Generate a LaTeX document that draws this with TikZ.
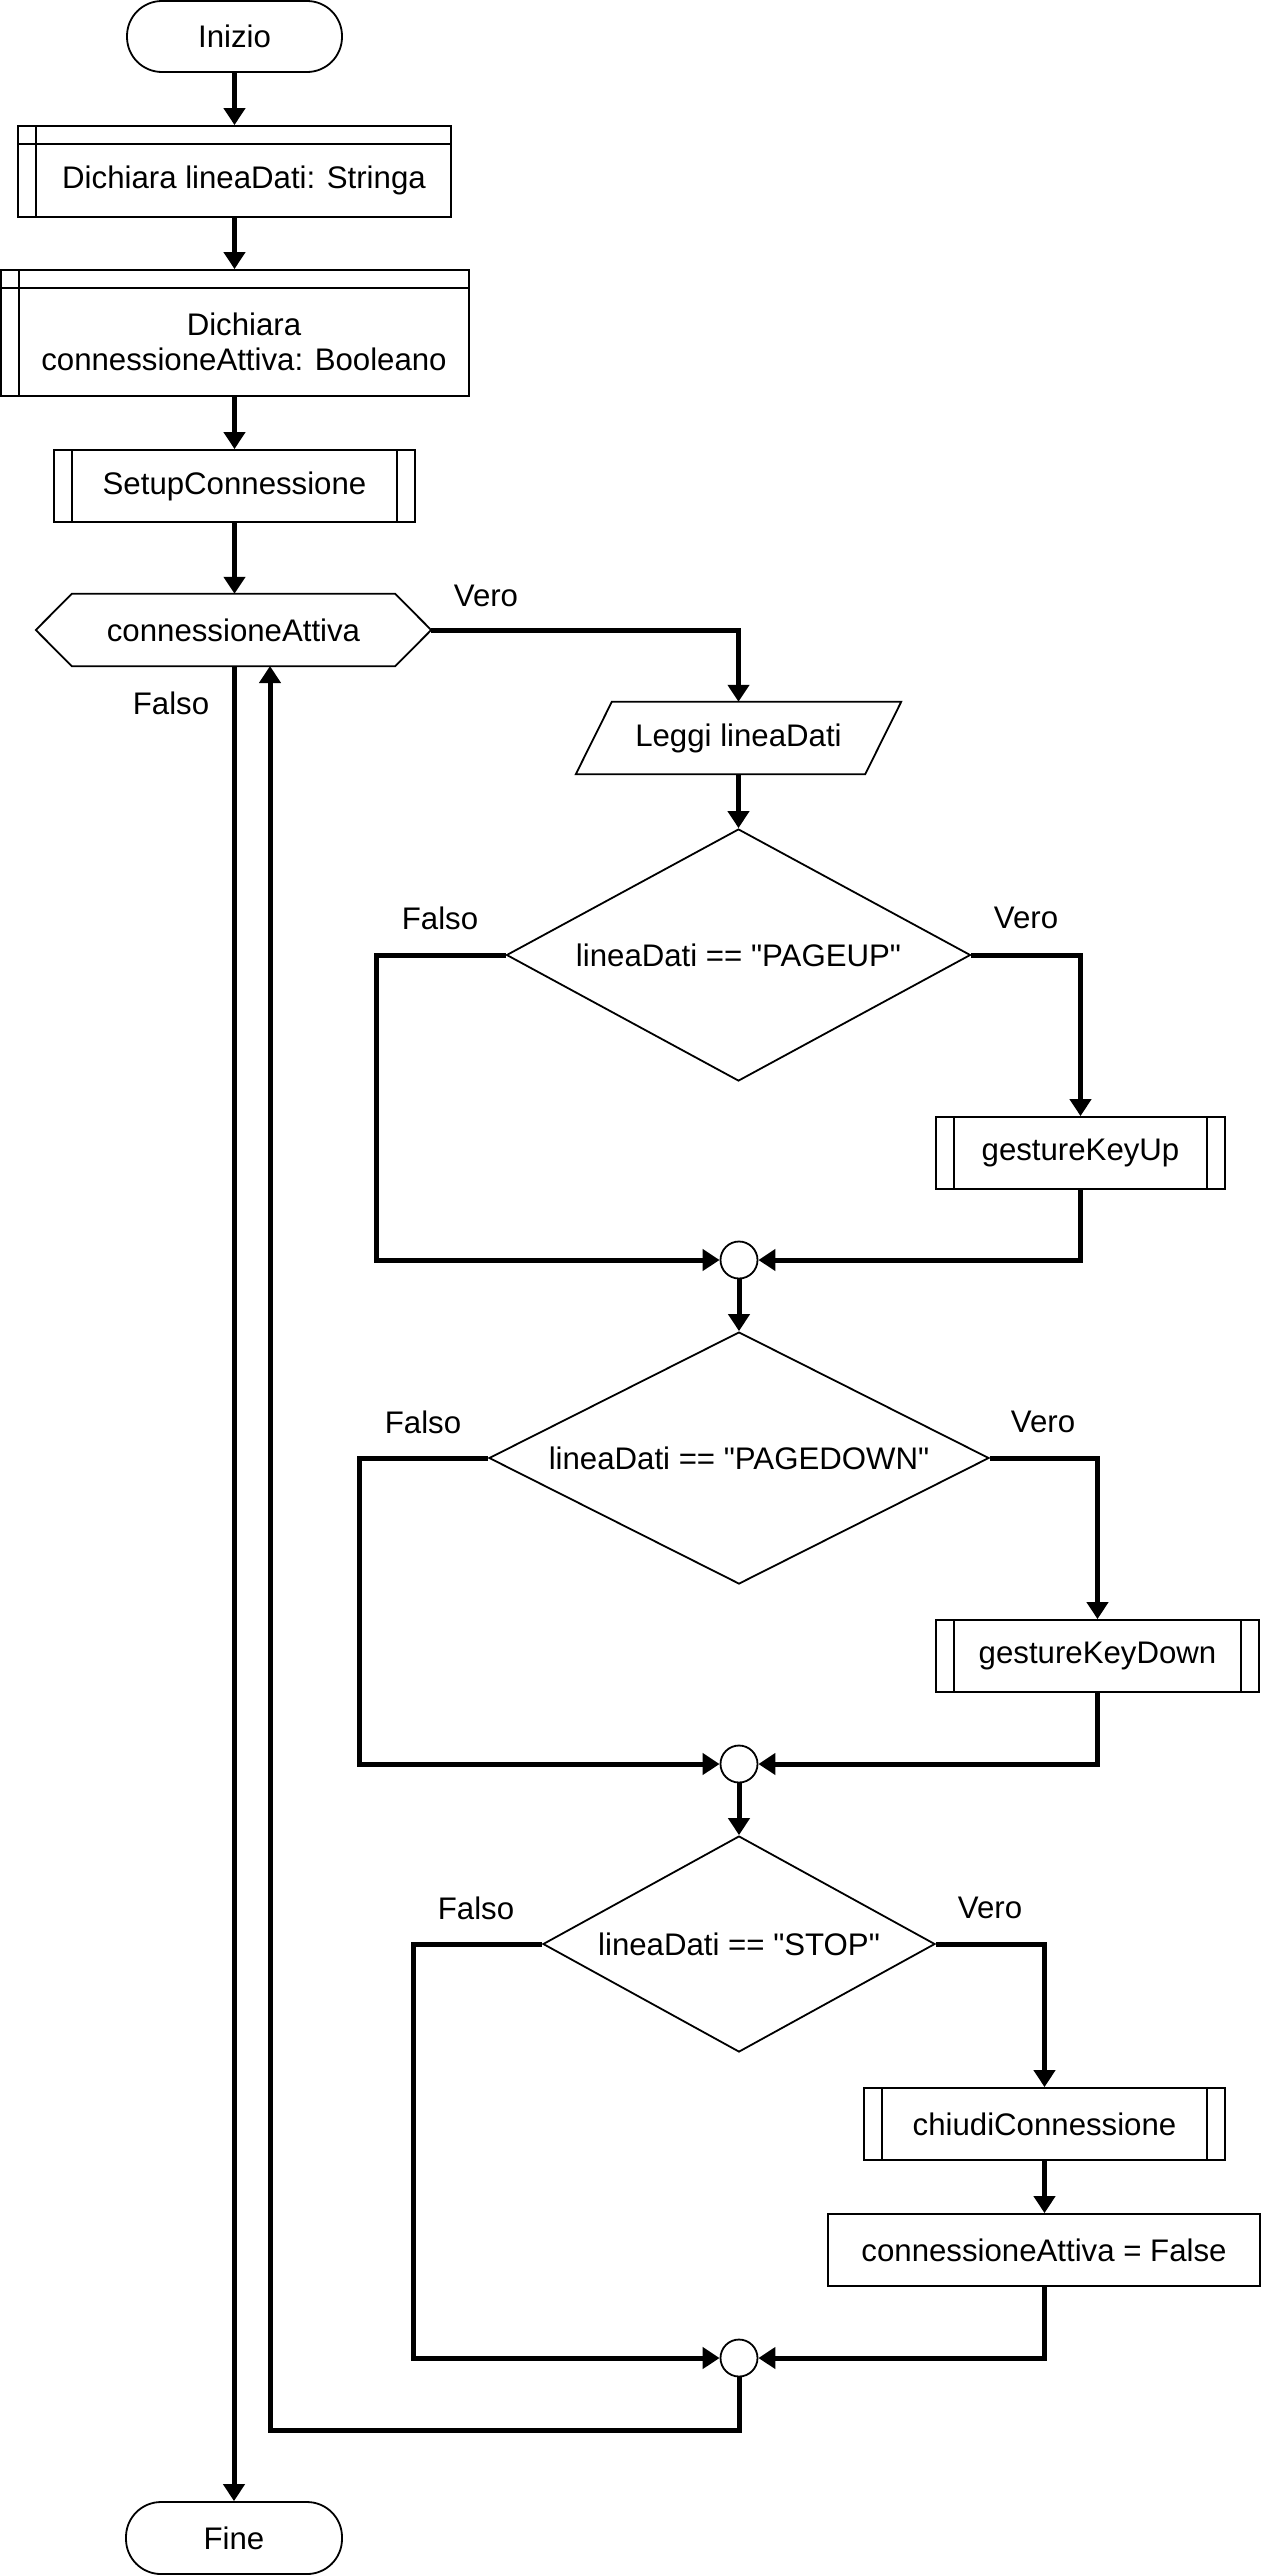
\documentclass[tikz,border=0pt]{standalone}
\usepackage{fontspec}
\setmainfont{Liberation Sans}
\usetikzlibrary{arrows.meta,shapes.geometric}

\begin{document}
\begin{tikzpicture}[
  x=1pt, y=-1pt,
  every node/.style={font=\fontsize{31.2pt}{35pt}\selectfont, inner sep=0pt},
  box/.style={draw, line width=1.8pt, fill=white, rectangle},
  terminal/.style={box, rounded corners=35pt},
  subproc/.style={box, path picture={
      \draw[line width=1.8pt] ([xshift=18pt]path picture bounding box.north west) -- ([xshift=18pt]path picture bounding box.south west);
      \draw[line width=1.8pt] ([xshift=-18pt]path picture bounding box.north east) -- ([xshift=-18pt]path picture bounding box.south east);}},
  storebox/.style={box, path picture={
      \draw[line width=1.8pt] ([yshift=-18pt]path picture bounding box.north west) -- ([yshift=-18pt]path picture bounding box.north east);
      \draw[line width=1.8pt] ([xshift=18pt]path picture bounding box.north west) -- ([xshift=18pt]path picture bounding box.south west);}},
  decision/.style={draw, line width=1.8pt, fill=white, diamond},
  junction/.style={draw, line width=1.8pt, fill=white, circle, minimum size=37pt},
  outline/.style={draw, line width=1.8pt, line join=miter},
  conn/.style={line width=5pt},
  arr/.style={conn, -{Triangle[length=17pt,width=21pt]}}
]
\useasboundingbox (0,0) rectangle (1261,2575);

% main column
\node[terminal, minimum width=215pt, minimum height=71pt] (inizio) at (234.5,36.5) {Inizio};
\node[storebox, minimum width=433pt, minimum height=91pt] (d1) at (234.5,171.5) {};
\node (d1t) at (244,180.5) {Dichiara lineaDati: Stringa};
\node[storebox, minimum width=468pt, minimum height=126pt] (d2) at (235,333) {};
\node[align=center] (d2t) at (244,342) {Dichiara\\connessioneAttiva: Booleano};
\node[subproc, minimum width=361pt, minimum height=72pt] (setup) at (234.5,486) {SetupConnessione};

% loop condition (hexagon)
\node[minimum width=395pt, minimum height=72pt] (hex) at (233.5,630) {connessioneAttiva};
\draw[outline] (hex.west) -- ([xshift=36pt]hex.north west) -- ([xshift=-36pt]hex.north east)
  -- (hex.east) -- ([xshift=-36pt]hex.south east) -- ([xshift=36pt]hex.south west) -- cycle;

\node[terminal, minimum width=216pt, minimum height=72pt] (fine) at (234,2538) {Fine};

% loop body
\node[minimum width=325pt, minimum height=72pt] (leggi) at (738.5,738) {Leggi lineaDati};
\draw[outline] (leggi.south west) -- ([xshift=36pt]leggi.north west) -- (leggi.north east)
  -- ([xshift=-36pt]leggi.south east) -- cycle;

\node[decision, minimum width=464pt, minimum height=252pt, aspect=1.84] (dia1) at (738.5,955) {lineaDati == \textquotedbl PAGEUP\textquotedbl};
\node[subproc, minimum width=289pt, minimum height=72pt] (gku) at (1080.5,1153) {gestureKeyUp};
\node[junction] (c1) at (739,1260) {};

\node[decision, minimum width=500pt, minimum height=252pt, aspect=1.98] (dia2) at (739,1458) {lineaDati == \textquotedbl PAGEDOWN\textquotedbl};
\node[subproc, minimum width=323pt, minimum height=72pt] (gkd) at (1097.5,1656) {gestureKeyDown};
\node[junction] (c2) at (739,1764) {};

\node[decision, minimum width=392pt, minimum height=216pt, aspect=1.81] (dia3) at (739,1944) {lineaDati == \textquotedbl STOP\textquotedbl};
\node[subproc, minimum width=361pt, minimum height=72pt] (chiudi) at (1044.5,2124) {chiudiConnessione};
\node[box, minimum width=432pt, minimum height=72pt] (caf) at (1044,2250) {connessioneAttiva = False};
\node[junction] (c3) at (739,2358) {};

% branch labels
\node (lvero0) at (486,596) {Vero};
\node (lfalso0) at (171,703) {Falso};
\node (lfalso1) at (440,918) {Falso};
\node (lvero1) at (1026,918) {Vero};
\node (lfalso2) at (423,1422) {Falso};
\node (lvero2) at (1043,1422) {Vero};
\node (lfalso3) at (476,1908) {Falso};
\node (lvero3) at (990,1908) {Vero};

% connectors of the main column
\draw[arr] (inizio.south) -- (inizio.south |- d1.north);
\draw[arr] (d1.south) -- (d1.south |- d2.north);
\draw[arr] (d2.south -| setup.north) -- (setup.north);
\draw[arr] (setup.south) -- (setup.south |- hex.north);
\draw[arr] (hex.south -| fine.north) -- (fine.north);

% loop entry
\draw[arr] (hex.east) -| (leggi.north);
\draw[arr] (leggi.south) -- (leggi.south -| dia1.north) -- (dia1.north);

% first test
\draw[arr] (dia1.west) -- ++(-129,0) |- (c1.west);
\draw[arr] (dia1.east) -| (gku.north);
\draw[arr] (gku.south) |- (c1.east);
\draw[arr] (c1.south) -- (dia2.north);

% second test
\draw[arr] (dia2.west) -- ++(-128.5,0) |- (c2.west);
\draw[arr] (dia2.east) -| (gkd.north);
\draw[arr] (gkd.south) |- (c2.east);
\draw[arr] (c2.south) -- (dia3.north);

% third test
\draw[arr] (dia3.west) -- ++(-128.5,0) |- (c3.west);
\draw[arr] (dia3.east) -| (chiudi.north);
\draw[arr] (chiudi.south) -- (chiudi.south |- caf.north);
\draw[arr] (caf.south) |- (c3.east);

% back to the loop condition
\coordinate (loopbot) at (270,2430);
\coordinate (hexret) at (270,666);
\draw[arr] (c3.south) |- (loopbot) -- (hexret);
\end{tikzpicture}
\end{document}
